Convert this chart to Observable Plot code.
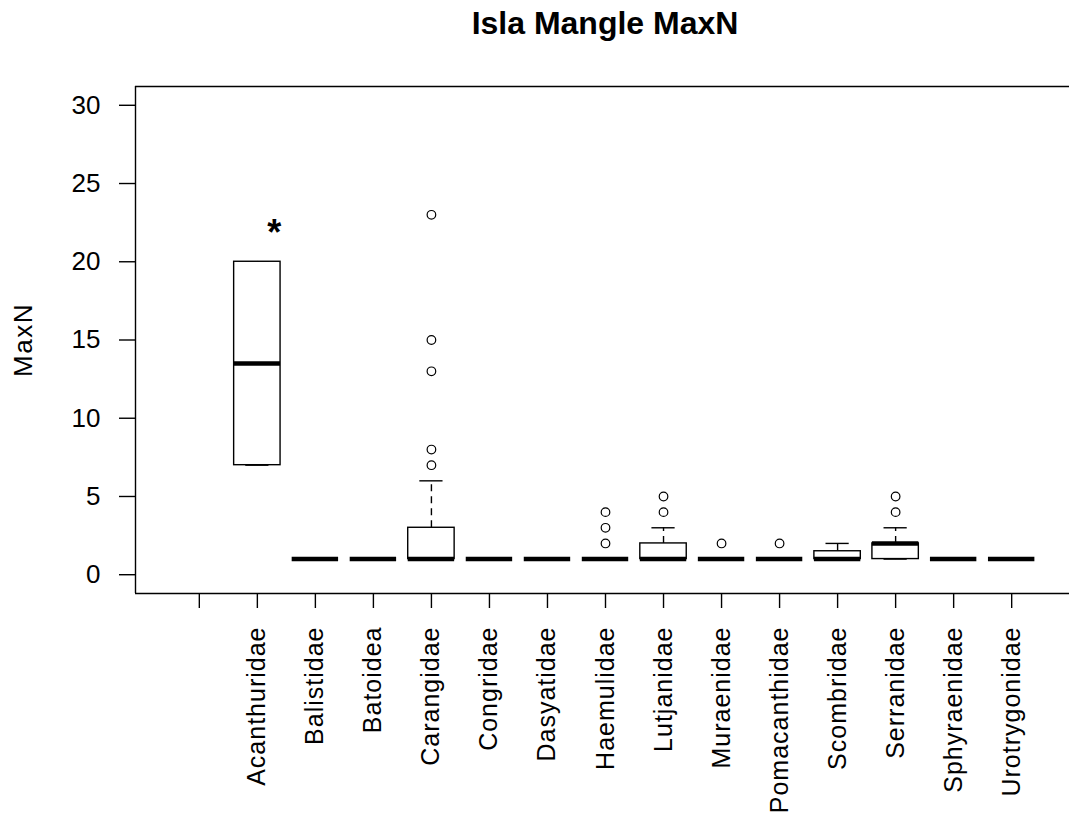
<!DOCTYPE html>
<html>
<head>
<meta charset="utf-8">
<script src="https://cdn.jsdelivr.net/npm/d3@7"></script>
<script src="https://cdn.jsdelivr.net/npm/@observablehq/plot@0.6"></script>
<style>
  html, body { margin: 0; padding: 0; background: #fff; }
  #wrap { position: relative; width: 1069px; }
  #title { height: 60px; box-sizing: border-box; position: relative; }
  #title span {
    position: absolute; left: 605px; top: 7px; transform: translateX(-50%);
    font-family: "Liberation Sans", Arial, sans-serif; font-weight: bold;
    font-size: 32px; line-height: 32px; color: #000; white-space: nowrap;
  }
  .xax text { letter-spacing: 1px; }
  .ylab text { letter-spacing: 1.5px; }
</style>
</head>
<body>
<div id="wrap">
  <div id="title"><span>Isla Mangle MaxN</span></div>
  <div id="chart"></div>
</div>
<script>
// Categories (first group is an unnamed, empty group)
const categories = ["", "Acanthuridae", "Balistidae", "Batoidea", "Carangidae", "Congridae",
  "Dasyatidae", "Haemulidae", "Lutjanidae", "Muraenidae", "Pomacanthidae", "Scombridae",
  "Serranidae", "Sphyraenidae", "Urotrygonidae"];
// Box statistics per category
const lowerWhisker = [null, 7, 1, 1, 1, 1, 1, 1, 1, 1, 1, 1, 1, 1, 1];
const q1           = [null, 7, 1, 1, 1, 1, 1, 1, 1, 1, 1, 1, 1, 1, 1];
const medians      = [null, 13.5, 1, 1, 1, 1, 1, 1, 1, 1, 1, 1, 2, 1, 1];
const q3           = [null, 20, 1, 1, 3, 1, 1, 1, 2, 1, 1, 1.5, 2, 1, 1];
const upperWhisker = [null, 20, 1, 1, 6, 1, 1, 1, 3, 1, 1, 2, 3, 1, 1];
const outliers = [[], [], [], [], [7, 8, 13, 15, 23], [], [], [2, 3, 4], [4, 5], [2], [2], [], [4, 5], [], []];
// y-axis ticks
const yTicks = [0, 5, 10, 15, 20, 25, 30];
// annotation
const annotations = [{group: "Acanthuridae", label: "*", value: 21.8}];

const positions = categories.map((c, i) => i + 1);
const boxes = positions.map((p, i) => ({
  p, cat: categories[i], lo: lowerWhisker[i], q1: q1[i], med: medians[i], q3: q3[i], hi: upperWhisker[i]
})).filter(d => d.med != null);
const outPts = positions.flatMap((p, i) => outliers[i].map(v => ({p, v})));

const yDomain = [-1.2, 31.2];
const xDomain = [-0.1, 16.1];
const bw = 0.4, cw = 0.2;
const sw = 1.4;

const chart = Plot.plot({
  width: 1069,
  height: 753,
  marginTop: 26,
  marginBottom: 220,
  marginLeft: 135,
  marginRight: 0,
  x: {type: "linear", domain: xDomain, range: [135, 1075]},
  y: {domain: yDomain},
  style: {fontFamily: "'Liberation Sans', Arial, sans-serif", background: "#fff", color: "#000", overflow: "visible"},
  marks: [
    // frame (left, top, bottom; right side lies outside the image)
    Plot.ruleY([yDomain[1]], {stroke: "#000", strokeWidth: sw}),
    Plot.ruleY([yDomain[0]], {stroke: "#000", strokeWidth: sw}),
    Plot.ruleX([xDomain[0]], {stroke: "#000", strokeWidth: sw}),
    Plot.axisY({ticks: yTicks, tickSize: 16, tickPadding: 19, fontSize: 26, label: null, strokeWidth: sw}),
    Plot.axisX({ticks: positions, tickFormat: p => categories[p - 1], tickRotate: -90,
      tickSize: 15, tickPadding: 18, fontSize: 25, label: null, strokeWidth: sw, className: "xax"}),
    Plot.text(["MaxN"], {x: xDomain[0], y: (yDomain[0] + yDomain[1]) / 2, dx: -112, rotate: -90,
      fontSize: 26, fill: "#000", className: "ylab"}),
    // whiskers (dashed)
    Plot.ruleX(boxes, {x: "p", y1: "q3", y2: "hi", stroke: "#000", strokeWidth: sw, strokeDasharray: "7,5"}),
    Plot.ruleX(boxes, {x: "p", y1: "lo", y2: "q1", stroke: "#000", strokeWidth: sw, strokeDasharray: "7,5"}),
    // whisker caps
    Plot.ruleY(boxes, {y: "hi", x1: d => d.p - cw, x2: d => d.p + cw, stroke: "#000", strokeWidth: sw}),
    Plot.ruleY(boxes, {y: "lo", x1: d => d.p - cw, x2: d => d.p + cw, stroke: "#000", strokeWidth: sw}),
    // boxes
    Plot.rect(boxes, {x1: d => d.p - bw, x2: d => d.p + bw, y1: "q1", y2: "q3", fill: "#fff", stroke: "#000", strokeWidth: sw}),
    // medians
    Plot.ruleY(boxes, {y: "med", x1: d => d.p - bw, x2: d => d.p + bw, stroke: "#000", strokeWidth: 4.5}),
    // outliers
    Plot.dot(outPts, {x: "p", y: "v", r: 4.3, stroke: "#000", fill: "none", strokeWidth: 1.2}),
    // annotation
    Plot.text(annotations, {x: d => categories.indexOf(d.group) + 1, y: "value", text: "label",
      dx: 17, fontSize: 36, fontWeight: "bold", fill: "#000"})
  ]
});
document.getElementById("chart").appendChild(chart);
</script>
</body>
</html>
